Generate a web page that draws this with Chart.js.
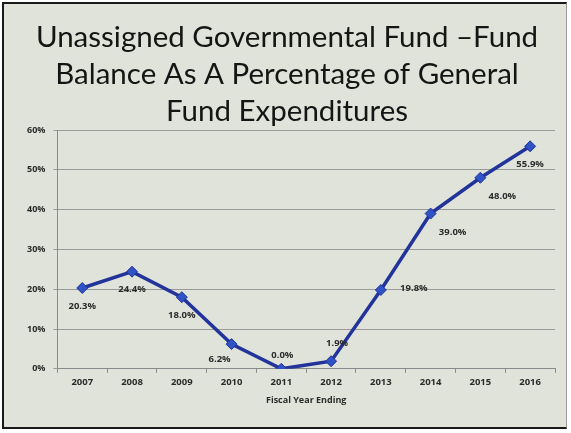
<!DOCTYPE html>
<html lang="en">
<head>
    <meta charset="UTF-8">
    <title>Unassigned Governmental Fund Balance</title>
    <style>
        body {
            margin: 0;
            padding: 0;
            background-color: #ffffff;
        }

        .frame {
            position: absolute;
            left: 2px;
            top: 2px;
            width: 562px;
            height: 423px;
            border: 2px solid #1a1a1a;
            border-right: 1px solid #9a9a9a;
            background-color: #dfe3da;
        }

        .chart-container {
            position: relative;
            width: 562px;
            height: 423px;
        }
    </style>
    <script src="https://cdn.jsdelivr.net/npm/chart.js"></script>
</head>
<body>
    <div class="frame">
        <div class="chart-container">
            <canvas id="fundChart"></canvas>
        </div>
    </div>
    <script>
        const years = ['2007', '2008', '2009', '2010', '2011', '2012', '2013', '2014', '2015', '2016'];
        const fundPercent = [20.3, 24.4, 18.0, 6.2, 0.0, 1.9, 19.8, 39.0, 48.0, 55.9];
        const yTicks = [0, 10, 20, 30, 40, 50, 60];
        // where each value label sits relative to its point
        const labelSpots = ['below', 'below', 'below', 'belowLeft', 'above', 'aboveRight', 'right', 'belowRight', 'belowRight', 'below'];

        const valueLabels = {
            id: 'valueLabels',
            afterDatasetsDraw(chart) {
                const ctx = chart.ctx;
                const meta = chart.getDatasetMeta(0);
                ctx.save();
                ctx.font = 'bold 9.5px "Open Sans", sans-serif';
                ctx.fillStyle = '#2b2b2b';
                ctx.textAlign = 'center';
                ctx.textBaseline = 'middle';
                meta.data.forEach((pt, i) => {
                    let dx = 0, dy = 0;
                    switch (labelSpots[i]) {
                        case 'below': dx = 0; dy = 18; break;
                        case 'above': dx = 1; dy = -14; break;
                        case 'belowLeft': dx = -12; dy = 15; break;
                        case 'aboveRight': dx = 6; dy = -18; break;
                        case 'right': dx = 33; dy = -2; break;
                        case 'belowRight': dx = 22; dy = 19; break;
                    }
                    ctx.fillText(fundPercent[i].toFixed(1) + '%', pt.x + dx, pt.y + dy);
                });
                ctx.restore();
            }
        };

        const ctx = document.getElementById('fundChart').getContext('2d');
        new Chart(ctx, {
            type: 'line',
            data: {
                labels: years,
                datasets: [{
                    label: 'Fund Balance %',
                    data: fundPercent,
                    borderColor: '#22339a',
                    borderWidth: 3.5,
                    pointStyle: 'rectRot',
                    pointRadius: 5.5,
                    pointBackgroundColor: '#2f52c4',
                    pointBorderColor: '#22339a',
                    pointBorderWidth: 1,
                    tension: 0
                }]
            },
            options: {
                responsive: true,
                maintainAspectRatio: false,
                animation: false,
                layout: {
                    padding: { left: 15, right: 11, top: 0, bottom: 17 }
                },
                plugins: {
                    legend: { display: false },
                    tooltip: { enabled: false },
                    title: {
                        display: true,
                        text: ['Unassigned Governmental Fund \u2013Fund', 'Balance As A Percentage of General', 'Fund Expenditures'],
                        font: { family: 'Lato', size: 29.5, weight: 'normal', lineHeight: '37px' },
                        color: '#151515',
                        padding: { top: 15, bottom: 0 }
                    }
                },
                scales: {
                    x: {
                        offset: true,
                        grid: {
                            display: true,
                            drawOnChartArea: false,
                            offset: true,
                            tickLength: 4,
                            color: '#8a8a8a'
                        },
                        border: { color: '#8a8a8a' },
                        ticks: {
                            color: '#2b2b2b',
                            font: { family: '"Open Sans", sans-serif', size: 9.5, weight: 'bold' },
                            padding: 4
                        },
                        title: {
                            display: true,
                            text: 'Fiscal Year Ending',
                            color: '#2b2b2b',
                            font: { family: '"Open Sans", sans-serif', size: 9, weight: 'bold' },
                            padding: { top: 3 }
                        }
                    },
                    y: {
                        min: yTicks[0],
                        max: yTicks[yTicks.length - 1],
                        afterBuildTicks(axis) {
                            axis.ticks = yTicks.map(v => ({ value: v }));
                        },
                        grid: {
                            color: '#9a9a9a',
                            lineWidth: 1,
                            tickLength: 4
                        },
                        border: { color: '#8a8a8a' },
                        ticks: {
                            color: '#2b2b2b',
                            font: { family: '"Open Sans", sans-serif', size: 9, weight: 'bold' },
                            padding: 8,
                            callback: v => v + '%'
                        }
                    }
                }
            },
            plugins: [valueLabels]
        });
    </script>
</body>
</html>
